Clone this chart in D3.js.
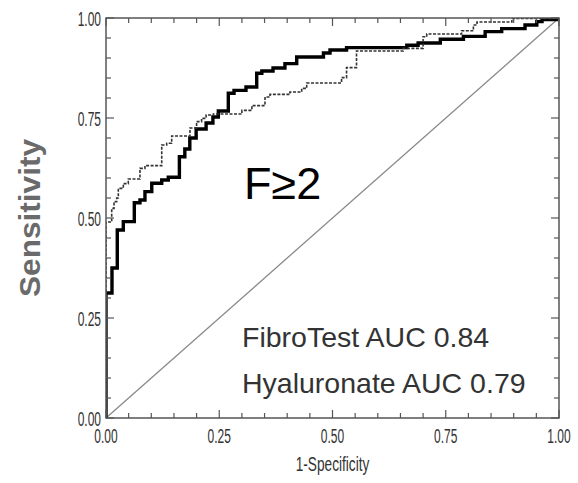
<!DOCTYPE html>
<html>
<head>
<meta charset="utf-8">
<script src="https://cdn.jsdelivr.net/npm/d3@7"></script>
<style>
  html, body { margin: 0; padding: 0; background: #fff; }
  svg { display: block; }
</style>
</head>
<body>
<svg id="chart" width="578" height="483"></svg>
<script>
// ---- Data ----
const fibroFPR = [0, 0, 0.0132, 0.0249, 0.0382, 0.0625, 0.075, 0.086, 0.101, 0.123, 0.1375, 0.162, 0.174, 0.185, 0.199, 0.221, 0.236, 0.248, 0.27, 0.2826, 0.309, 0.3327, 0.344, 0.3687, 0.395, 0.421, 0.48, 0.4945, 0.531, 0.664, 0.689, 0.738, 0.789, 0.837, 0.8735, 0.925, 0.951, 0.9625, 0.9956, 1];
const fibroTPR = [0, 0.3125, 0.375, 0.47, 0.491, 0.538, 0.545, 0.566, 0.587, 0.595, 0.602, 0.653, 0.6725, 0.70, 0.7225, 0.7375, 0.7525, 0.7675, 0.812, 0.819, 0.8275, 0.862, 0.8675, 0.875, 0.886, 0.9025, 0.9125, 0.92, 0.926, 0.932, 0.9375, 0.947, 0.954, 0.966, 0.9735, 0.9825, 0.991, 0.996, 1.0, 1];

const hyalFPR = [0, 0, 0.0126, 0.0177, 0.0236, 0.0272, 0.0382, 0.0492, 0.075, 0.086, 0.123, 0.134, 0.145, 0.1854, 0.2, 0.211, 0.221, 0.237, 0.300, 0.322, 0.351, 0.362, 0.406, 0.432, 0.443, 0.520, 0.531, 0.553, 0.656, 0.700, 0.708, 0.785, 0.811, 0.819, 0.896, 1];
const hyalTPR = [0, 0.49, 0.524, 0.541, 0.55, 0.574, 0.586, 0.5975, 0.624, 0.631, 0.6825, 0.687, 0.705, 0.725, 0.741, 0.749, 0.7575, 0.76, 0.769, 0.781, 0.8025, 0.809, 0.815, 0.824, 0.8375, 0.851, 0.876, 0.9175, 0.924, 0.953, 0.96, 0.968, 0.9825, 0.99, 0.999, 1];

const tickLabels = ["0.00", "0.25", "0.50", "0.75", "1.00"];
const annotation = "F≥2";
const legendLines = ["FibroTest AUC 0.84", "Hyaluronate AUC 0.79"];
const xTitle = "1-Specificity";
const yTitle = "Sensitivity";

// ---- Layout ----
const svg = d3.select("#chart");
const L = 106, R = 559, T = 18, B = 418;
const x = d3.scaleLinear().domain([0, 1]).range([L, R]);
const y = d3.scaleLinear().domain([0, 1]).range([B, T]);

const frameColor = "#555";

svg.append("defs").append("clipPath").attr("id", "plotclip")
  .append("rect").attr("x", L).attr("y", T).attr("width", R - L).attr("height", B - T);

// diagonal reference line
svg.append("line")
  .attr("x1", x(0)).attr("y1", y(0)).attr("x2", x(1)).attr("y2", y(1))
  .attr("stroke", "#8a8a8a").attr("stroke-width", 1.3);

const line = d3.line().curve(d3.curveStepAfter).x(d => x(d[0])).y(d => y(d[1]));

const fibro = fibroFPR.map((v, i) => [v, fibroTPR[i]]);
const hyal = hyalFPR.map((v, i) => [v, hyalTPR[i]]);

const curves = svg.append("g").attr("clip-path", "url(#plotclip)");
curves.append("path").datum(fibro)
  .attr("d", line).attr("fill", "none")
  .attr("stroke", "#000").attr("stroke-width", 3.4)
  .attr("stroke-linejoin", "miter");
curves.append("path").datum(hyal)
  .attr("d", line).attr("fill", "none")
  .attr("stroke", "#333").attr("stroke-width", 1.6)
  .attr("stroke-dasharray", "3,1.5");

// frame
svg.append("rect")
  .attr("x", L).attr("y", T).attr("width", R - L).attr("height", B - T)
  .attr("fill", "none").attr("stroke", frameColor).attr("stroke-width", 1.5);

// ticks on all four sides, pointing inward
const minor = d3.range(0, 21).map(i => i / 20);
const tg = svg.append("g").attr("stroke", frameColor).attr("stroke-width", 1.2);
minor.forEach((v, i) => {
  const len = (i % 5 === 0) ? 8 : 5;
  tg.append("line").attr("x1", x(v)).attr("x2", x(v)).attr("y1", B).attr("y2", B - len);
  tg.append("line").attr("x1", x(v)).attr("x2", x(v)).attr("y1", T).attr("y2", T + len);
  tg.append("line").attr("y1", y(v)).attr("y2", y(v)).attr("x1", L).attr("x2", L + len);
  tg.append("line").attr("y1", y(v)).attr("y2", y(v)).attr("x1", R).attr("x2", R - len);
});

// tick labels (condensed look)
const majors = tickLabels.map(Number);
const fontFam = "'Liberation Sans', Arial, sans-serif";
majors.forEach((v, i) => {
  svg.append("text")
    .attr("transform", `translate(${x(v)},443) scale(0.6,1)`)
    .attr("text-anchor", "middle")
    .attr("font-family", fontFam).attr("font-size", 20)
    .attr("fill", "#333")
    .text(tickLabels[i]);
  svg.append("text")
    .attr("transform", `translate(101,${y(v) + 8}) scale(0.6,1)`)
    .attr("text-anchor", "end")
    .attr("font-family", fontFam).attr("font-size", 20)
    .attr("fill", "#333")
    .text(tickLabels[i]);
});

// axis titles
svg.append("text")
  .attr("transform", `translate(332.5,471) scale(0.65,1)`)
  .attr("text-anchor", "middle")
  .attr("font-family", fontFam).attr("font-size", 21)
  .attr("fill", "#333")
  .text(xTitle);

svg.append("text")
  .attr("transform", `translate(40,218) rotate(-90)`)
  .attr("text-anchor", "middle")
  .attr("font-family", fontFam).attr("font-size", 29).attr("font-weight", "bold")
  .attr("fill", "#6a6a6a")
  .attr("textLength", 158).attr("lengthAdjust", "spacingAndGlyphs")
  .text(yTitle);

// annotations
svg.append("text")
  .attr("x", 244).attr("y", 199)
  .attr("font-family", fontFam).attr("font-size", 45)
  .attr("fill", "#000")
  .text(annotation);

svg.append("text")
  .attr("x", 242).attr("y", 347)
  .attr("font-family", fontFam).attr("font-size", 28.5)
  .attr("fill", "#333")
  .text(legendLines[0]);
svg.append("text")
  .attr("x", 242).attr("y", 393)
  .attr("font-family", fontFam).attr("font-size", 28.5)
  .attr("fill", "#333")
  .text(legendLines[1]);
</script>
</body>
</html>
